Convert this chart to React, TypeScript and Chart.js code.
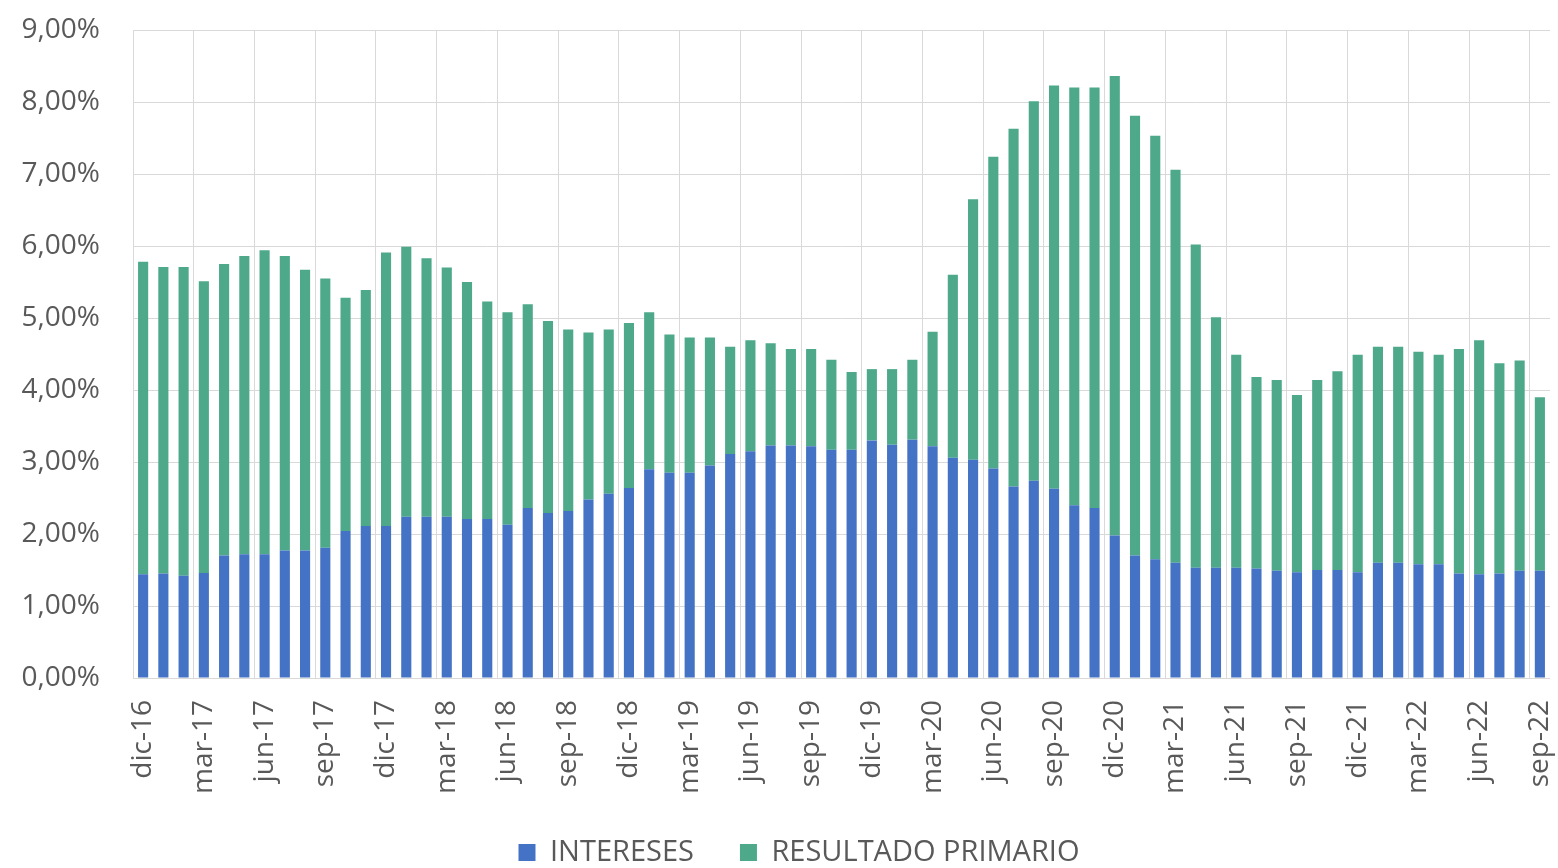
import React, { useEffect, useRef } from "react";
import { Chart, registerables } from "chart.js";

Chart.register(...registerables);

const labels: string[] = [
  "dic-16",
  "ene-17", "feb-17", "mar-17", "abr-17", "may-17", "jun-17", "jul-17", "ago-17", "sep-17", "oct-17", "nov-17", "dic-17",
  "ene-18", "feb-18", "mar-18", "abr-18", "may-18", "jun-18", "jul-18", "ago-18", "sep-18", "oct-18", "nov-18", "dic-18",
  "ene-19", "feb-19", "mar-19", "abr-19", "may-19", "jun-19", "jul-19", "ago-19", "sep-19", "oct-19", "nov-19", "dic-19",
  "ene-20", "feb-20", "mar-20", "abr-20", "may-20", "jun-20", "jul-20", "ago-20", "sep-20", "oct-20", "nov-20", "dic-20",
  "ene-21", "feb-21", "mar-21", "abr-21", "may-21", "jun-21", "jul-21", "ago-21", "sep-21", "oct-21", "nov-21", "dic-21",
  "ene-22", "feb-22", "mar-22", "abr-22", "may-22", "jun-22", "jul-22", "ago-22", "sep-22",
];

const intereses: number[] = [
  1.44,
  1.45, 1.42, 1.46, 1.70, 1.72, 1.72, 1.77, 1.77, 1.81, 2.04, 2.11, 2.11,
  2.24, 2.24, 2.24, 2.21, 2.21, 2.13, 2.36, 2.29, 2.32, 2.48, 2.56, 2.64,
  2.90, 2.85, 2.85, 2.95, 3.11, 3.15, 3.23, 3.23, 3.22, 3.17, 3.17, 3.30,
  3.24, 3.31, 3.22, 3.06, 3.03, 2.91, 2.66, 2.74, 2.63, 2.40, 2.36, 1.98,
  1.70, 1.65, 1.60, 1.53, 1.53, 1.53, 1.52, 1.49, 1.47, 1.50, 1.50, 1.47,
  1.60, 1.60, 1.58, 1.58, 1.45, 1.44, 1.45, 1.49, 1.49,
];

const resultadoPrimario: number[] = [
  4.34,
  4.26, 4.29, 4.05, 4.05, 4.14, 4.22, 4.09, 3.90, 3.74, 3.24, 3.28, 3.80,
  3.75, 3.59, 3.46, 3.29, 3.02, 2.95, 2.83, 2.67, 2.52, 2.32, 2.28, 2.29,
  2.18, 1.92, 1.88, 1.78, 1.49, 1.54, 1.42, 1.34, 1.35, 1.25, 1.08, 0.99,
  1.05, 1.11, 1.59, 2.54, 3.62, 4.33, 4.97, 5.27, 5.60, 5.80, 5.84, 6.38,
  6.11, 5.88, 5.46, 4.49, 3.48, 2.96, 2.66, 2.65, 2.46, 2.64, 2.76, 3.02,
  3.00, 3.00, 2.95, 2.91, 3.12, 3.25, 2.92, 2.92, 2.41,
];

const seriesNames: string[] = ["INTERESES", "RESULTADO PRIMARIO"];

const BLUE = "#4472C4";
const GREEN = "#4DA98A";
const GRID = "#d9d9d9";
const TEXT = "#595959";
const FONT = "'Open Sans', 'Noto Sans', sans-serif";

export default function App() {
  const ref = useRef<HTMLCanvasElement | null>(null);

  useEffect(() => {
    if (!ref.current) return;
    const legendShift = {
      id: "legendShift",
      afterLayout(chart: any) {
        const l = chart.legend;
        if (l) {
          l.left += 24;
          l.right += 24;
          l.top -= 2;
          l.bottom -= 2;
        }
      },
    };
    const chart = new Chart(ref.current, {
      type: "bar",
      data: {
        labels,
        datasets: [
          {
            label: seriesNames[0],
            data: intereses,
            backgroundColor: BLUE,
            borderWidth: 0,
            barPercentage: 0.5,
            categoryPercentage: 1.0,
          },
          {
            label: seriesNames[1],
            data: resultadoPrimario,
            backgroundColor: GREEN,
            borderWidth: 0,
            barPercentage: 0.5,
            categoryPercentage: 1.0,
          },
        ],
      },
      options: {
        responsive: false,
        animation: false,
        layout: { padding: { top: 30, left: 0, right: 8, bottom: 0 } },
        plugins: {
          tooltip: { enabled: false },
          legend: {
            position: "bottom",
            labels: {
              boxWidth: 17,
              boxHeight: 17,
              padding: 46,
              color: TEXT,
              font: { family: FONT, size: 29 },
            },
          },
        },
        scales: {
          x: {
            stacked: true,
            offset: true,
            border: { display: false },
            grid: {
              offset: true,
              drawTicks: false,
              color: (ctx: any) => (ctx.index % 3 === 0 ? GRID : "rgba(0,0,0,0)"),
              lineWidth: 1,
            },
            ticks: {
              autoSkip: false,
              maxRotation: 90,
              minRotation: 90,
              padding: 22,
              color: TEXT,
              font: { family: FONT, size: 28 },
              callback: (_v: any, i: number) => (i % 3 === 0 ? labels[i] : ""),
            },
            afterFit: (scale: any) => {
              scale.height = 116;
              scale.paddingLeft = 0;
              scale.paddingRight = 0;
            },
          },
          y: {
            stacked: true,
            min: 0,
            max: 9,
            border: { display: false },
            grid: { color: GRID, drawTicks: false, lineWidth: 1 },
            ticks: {
              stepSize: 1,
              padding: 33,
              color: TEXT,
              font: { family: FONT, size: 28 },
              callback: (v: any) => Number(v).toFixed(2).replace(".", ",") + "%",
            },
            afterFit: (scale: any) => {
              scale.width = 133;
              scale.paddingTop = 0;
              scale.paddingBottom = 0;
            },
          },
        },
      },
      plugins: [legendShift],
    } as any);
    return () => chart.destroy();
  }, []);

  return (
    <div style={{ position: "fixed", left: 0, top: 0, width: 1558, height: 879, background: "#fff" }}>
      <canvas ref={ref} width={1558} height={879} style={{ display: "block" }} />
    </div>
  );
}
